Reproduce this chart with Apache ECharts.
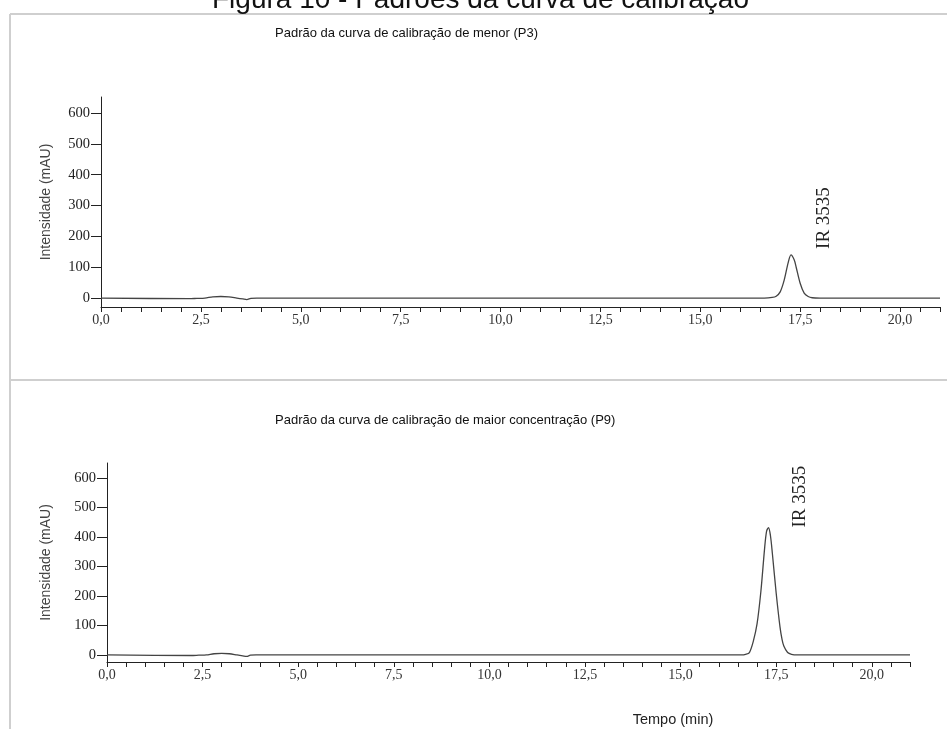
<!DOCTYPE html>
<html>
<head>
<meta charset="utf-8">
<script src="https://cdn.jsdelivr.net/npm/echarts@6/dist/echarts.min.js"></script>
<style>
html,body{margin:0;padding:0;background:#fff;}
#chart{width:947px;height:729px;}
</style>
</head>
<body>
<div id="chart"></div>
<script>
// ---- data ----
var figureTitle = 'Figura 10 - Padrões da curva de calibração';
var titleTop = 'Padrão da curva de calibração de menor (P3)';
var titleBottom = 'Padrão da curva de calibração de maior concentração (P9)';
var yAxisName = 'Intensidade (mAU)';
var xAxisName = 'Tempo (min)';
var peakName = 'IR 3535';
var yTicks = [0, 100, 200, 300, 400, 500, 600];
var xLabels = [0, 2.5, 5, 7.5, 10, 12.5, 15, 17.5, 20];

var timeP3 = [0, 2.2, 2.4, 2.6, 2.8, 3.0, 3.2, 3.4, 3.55, 3.65, 3.75, 3.9, 16.6, 16.8, 16.9, 17.0, 17.1, 17.2, 17.27, 17.35, 17.4, 17.5, 17.6, 17.7, 17.8, 18.0, 21];
var intP3  = [0, -2, -1, 0, 4, 5, 4, 0, -3, -5, -1, 0, 0, 2, 6, 20, 58, 115, 140, 124, 100, 48, 16, 5, 1, 0, 0];

var timeP9 = [0, 2.2, 2.4, 2.6, 2.8, 3.0, 3.2, 3.4, 3.55, 3.65, 3.75, 3.9, 16.6, 16.7, 16.8, 16.9, 17.0, 17.1, 17.2, 17.25, 17.3, 17.35, 17.4, 17.5, 17.6, 17.65, 17.7, 17.8, 17.9, 18.05, 21];
var intP9  = [0, -2, -1, 0, 4, 5, 4, 0, -3, -5, -1, 0, 0, 2, 8, 45, 105, 215, 365, 420, 432, 405, 345, 210, 95, 55, 30, 8, 2, 0, 0];

function pairs(t, v) { return t.map(function (x, i) { return [x, v[i]]; }); }
function peakOf(t, v) { var k = 0; v.forEach(function (y, i) { if (y > v[k]) k = i; }); return [t[k], v[k]]; }

var serif = '"Liberation Serif", "DejaVu Serif", serif';
var sans = '"Liberation Sans", Arial, sans-serif';

function xAxisCfg(gi) {
  return {
    type: 'value', gridIndex: gi, min: 0, max: 21, interval: 0.5,
    splitLine: { show: false },
    axisLine: { onZero: false, lineStyle: { color: '#222', width: 1 } },
    axisTick: { show: true, length: 5, lineStyle: { color: '#222' } },
    axisLabel: {
      customValues: xLabels, color: '#333', fontFamily: serif, fontSize: 14, margin: 6,
      formatter: function (v) { return v.toFixed(1).replace('.', ','); }
    }
  };
}
function yAxisCfg(gi, mn, mx, gap) {
  return {
    type: 'value', gridIndex: gi, min: mn, max: mx,
    splitLine: { show: false },
    axisLine: { onZero: false, lineStyle: { color: '#222', width: 1 } },
    axisTick: { show: true, customValues: yTicks, length: 10, lineStyle: { color: '#222' } },
    axisLabel: { customValues: yTicks, color: '#222', fontFamily: serif, fontSize: 14.5, margin: 11 },
    name: yAxisName, nameLocation: 'middle', nameGap: gap,
    nameTextStyle: { fontFamily: sans, fontSize: 14, color: '#444' }
  };
}

var chart = echarts.init(document.getElementById('chart'), null, { renderer: 'canvas' });
var option = {
  animation: false,
  backgroundColor: '#fff',
  grid: [
    { left: 101, right: 7, top: 97, height: 210 },
    { left: 107, right: 37, top: 463, height: 199 }
  ],
  xAxis: [xAxisCfg(0), xAxisCfg(1)],
  yAxis: [yAxisCfg(0, -29, 652, 48), yAxisCfg(1, -24, 651, 54)],
  series: [
    { type: 'line', xAxisIndex: 0, yAxisIndex: 0, data: pairs(timeP3, intP3), smooth: 0.3, showSymbol: false,
      lineStyle: { color: '#444', width: 1.3 } },
    { type: 'line', xAxisIndex: 1, yAxisIndex: 1, data: pairs(timeP9, intP9), smooth: 0.3, showSymbol: false,
      lineStyle: { color: '#444', width: 1.3 } }
  ]
};
chart.setOption(option);

var p3 = chart.convertToPixel({ xAxisIndex: 0, yAxisIndex: 0 }, peakOf(timeP3, intP3));
var p9 = chart.convertToPixel({ xAxisIndex: 1, yAxisIndex: 1 }, peakOf(timeP9, intP9));

chart.setOption({
  graphic: [
    { type: 'line', shape: { x1: 10, y1: 14, x2: 947, y2: 14 }, style: { stroke: '#cfcfcf', lineWidth: 2 } },
    { type: 'line', shape: { x1: 10, y1: 14, x2: 10, y2: 729 }, style: { stroke: '#cfcfcf', lineWidth: 2 } },
    { type: 'line', shape: { x1: 10, y1: 380, x2: 947, y2: 380 }, style: { stroke: '#cfcfcf', lineWidth: 2 } },
    { type: 'text', x: 212, y: 14, style: { text: figureTitle, font: '28px ' + sans, fill: '#111', textAlign: 'left', textVerticalAlign: 'bottom' } },
    { type: 'text', x: 275, y: 33, style: { text: titleTop, font: '13px ' + sans, fill: '#111', textAlign: 'left', textVerticalAlign: 'middle' } },
    { type: 'text', x: 275, y: 420, style: { text: titleBottom, font: '13px ' + sans, fill: '#111', textAlign: 'left', textVerticalAlign: 'middle' } },
    { type: 'text', x: 673, y: 720, style: { text: xAxisName, font: '14.5px ' + sans, fill: '#222', textAlign: 'center', textVerticalAlign: 'middle' } },
    { type: 'text', x: p3[0] + 33, y: p3[1] - 6, rotation: Math.PI / 2,
      style: { text: peakName, font: '19px ' + serif, fill: '#222', textAlign: 'left', textVerticalAlign: 'middle' } },
    { type: 'text', x: p9[0] + 31, y: p9[1], rotation: Math.PI / 2,
      style: { text: peakName, font: '19px ' + serif, fill: '#222', textAlign: 'left', textVerticalAlign: 'middle' } }
  ]
});
</script>
</body>
</html>
